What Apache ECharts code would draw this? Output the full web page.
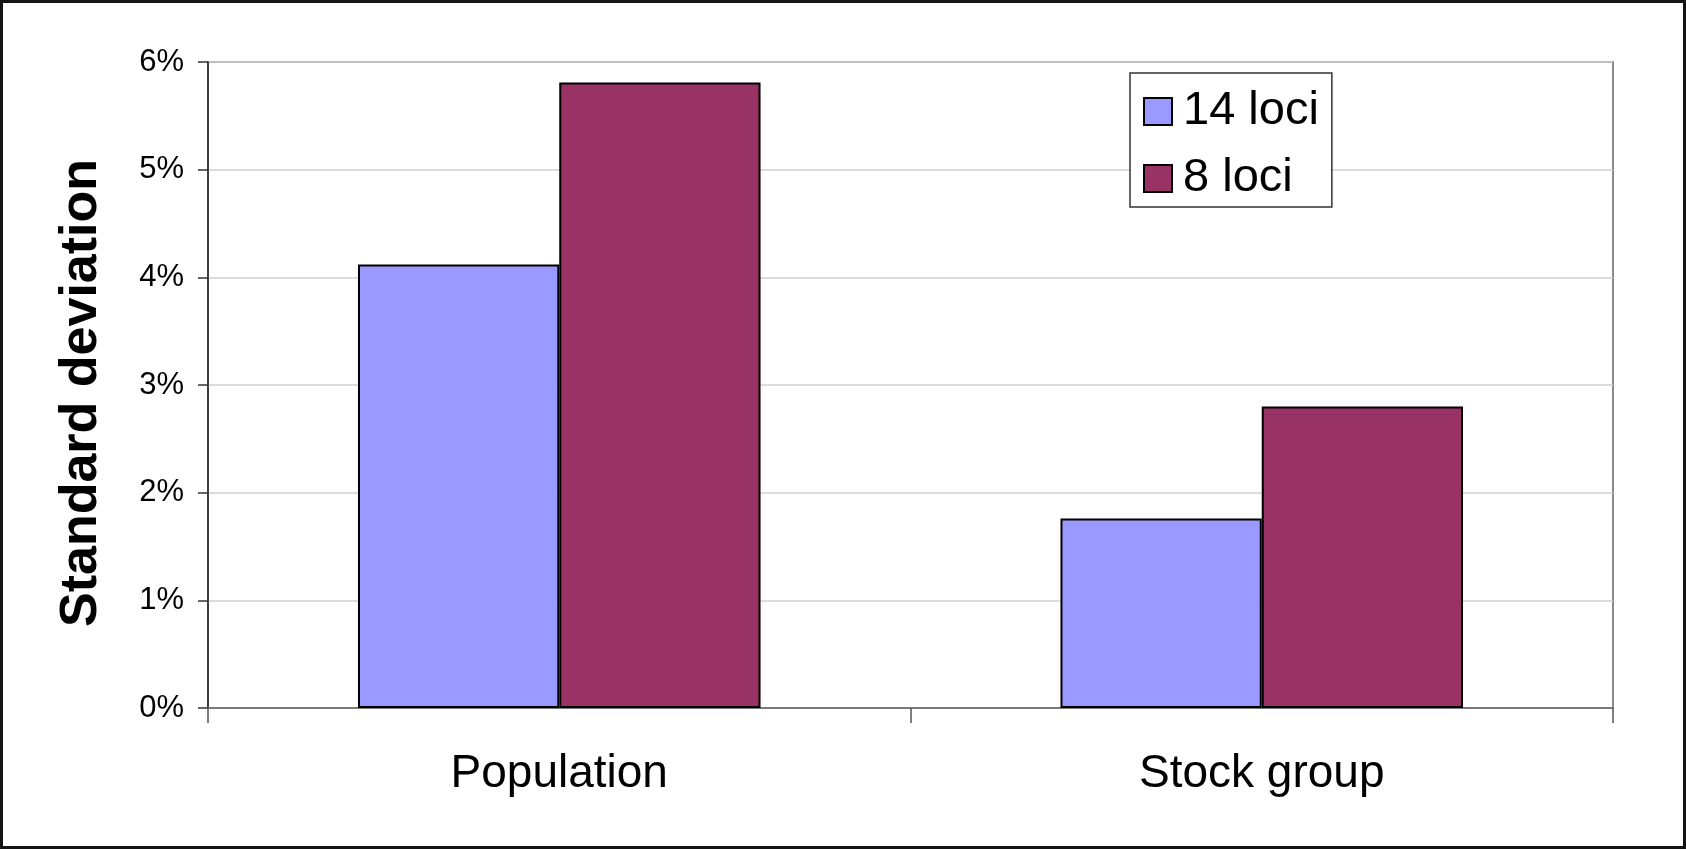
<!DOCTYPE html>
<html>
<head>
<meta charset="utf-8">
<script src="https://cdn.jsdelivr.net/npm/echarts@6/dist/echarts.min.js"></script>
<style>
  html, body { margin: 0; padding: 0; background: #fff; }
  #chart { width: 1686px; height: 849px; }
</style>
</head>
<body>
<div id="chart"></div>
<script>
// Standard deviation (%) per group, for two marker panels
const categories = ['Population', 'Stock group'];
const loci14 = [4.12, 1.76];
const loci8 = [5.81, 2.80];
const seriesNames = ['14 loci', '8 loci'];
const yTicks = { min: 0, max: 6, interval: 1 };

const FONT = '"Liberation Sans", Arial, sans-serif';

const chart = echarts.init(document.getElementById('chart'), null, { renderer: 'canvas' });

chart.setOption({
  backgroundColor: '#ffffff',
  animation: false,
  textStyle: { fontFamily: FONT, color: '#000' },
  graphic: [{
    type: 'rect',
    shape: { x: 1.5, y: 1.5, width: 1683, height: 846 },
    style: { fill: 'none', stroke: '#141414', lineWidth: 3 },
    z: 100
  }],
  grid: {
    left: 208, right: 73, top: 62, bottom: 141,
    show: true, borderColor: '#8a8a8a', borderWidth: 2, backgroundColor: '#ffffff'
  },
  legend: {
    orient: 'vertical',
    left: 1130, top: 73,
    data: seriesNames,
    backgroundColor: '#ffffff',
    borderColor: '#333333', borderWidth: 1.5,
    padding: [15, 13, 5, 13],
    itemWidth: 28, itemHeight: 27, itemGap: 20,
    icon: 'rect',
    selectedMode: false,
    textStyle: { fontFamily: FONT, fontSize: 47, color: '#000', lineHeight: 45, padding: [0, 0, 0, 6] }
  },
  xAxis: {
    type: 'category',
    data: categories,
    axisLine: { lineStyle: { color: '#7a7a7a', width: 2 } },
    axisTick: { show: true, length: 15, lineStyle: { color: '#555', width: 1.5 } },
    axisLabel: { fontFamily: FONT, fontSize: 46, color: '#000', margin: 43 },
    splitLine: { show: false }
  },
  yAxis: {
    type: 'value',
    min: yTicks.min, max: yTicks.max, interval: yTicks.interval,
    name: 'Standard deviation',
    nameLocation: 'middle',
    nameGap: 100,
    nameTextStyle: { fontFamily: FONT, fontSize: 52, fontWeight: 'bold', color: '#000', padding: [0, 16, 0, 0] },
    axisLine: { show: true, lineStyle: { color: '#222', width: 1.5 } },
    axisTick: { show: true, length: 10, lineStyle: { color: '#333', width: 1.5 } },
    axisLabel: { fontFamily: FONT, fontSize: 31, color: '#000', margin: 24, formatter: '{value}%' },
    splitLine: { show: true, lineStyle: { color: '#d0d0d0', width: 1.5 } }
  },
  series: [
    {
      name: seriesNames[0], type: 'bar', data: loci14,
      barGap: '0%', barCategoryGap: '42.7%',
      itemStyle: { color: '#9999FF', borderColor: '#000', borderWidth: 2 }
    },
    {
      name: seriesNames[1], type: 'bar', data: loci8,
      barGap: '0%', barCategoryGap: '42.7%',
      itemStyle: { color: '#993366', borderColor: '#000', borderWidth: 2 }
    }
  ]
});
</script>
</body>
</html>
